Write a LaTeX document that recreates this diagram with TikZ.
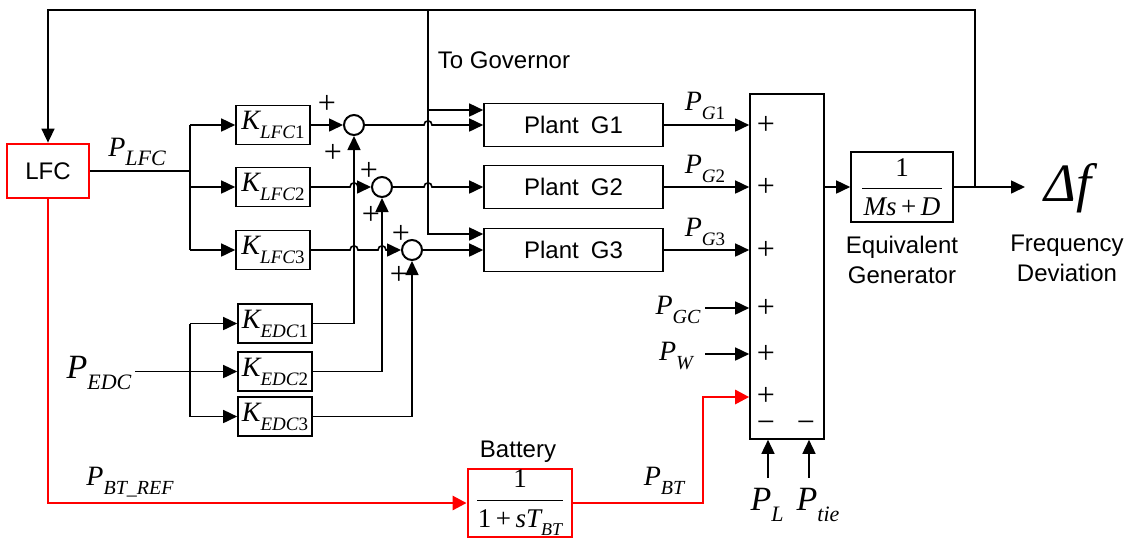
\documentclass[tikz,border=0pt]{standalone}
\usepackage{amsmath}
\usepackage{fontspec}
\setsansfont{Liberation Sans}
\newfontfamily\tms{Liberation Serif}
\usetikzlibrary{arrows.meta,positioning,calc}

% italic symbol with italic subscript
\newcommand{\vr}[3][9.5]{{\itshape #2}\raisebox{-.7ex}{\fontsize{#1}{#1}\selectfont\itshape #3}}
% small hop where a line crosses a vertical one
\newcommand{\hop}[2]{-- (#1-4,#2) .. controls (#1-4,#2-5.5) and (#1+4,#2-5.5) .. (#1+4,#2)}

\tikzset{
  blk/.style ={draw,line width=.8pt,minimum width=37pt,minimum height=19.5pt,inner sep=0pt},
  rblk/.style={draw=red,line width=1.4pt,inner sep=0pt},
  sumc/.style={circle,draw,line width=1pt,minimum size=10pt,inner sep=0pt},
  ln/.style  ={line width=.8pt},
  ar/.style  ={-{Triangle[length=7pt,width=6.5pt]},line width=.8pt},
  rar/.style ={-{Triangle[length=7pt,width=7pt]},red,line width=1.4pt},
  sf/.style  ={font=\sffamily\fontsize{12}{15}\selectfont,align=center},
  big/.style ={font=\tms\fontsize{17}{19}\selectfont},
  frc/.style ={font=\tms\fontsize{13.5}{14}\selectfont},
  pls/.style ={font=\tms\fontsize{16}{16}\selectfont,inner sep=0pt},
}

\begin{document}
\begin{tikzpicture}[x=.5pt,y=-.5pt,font=\tms\fontsize{14}{16}\selectfont]
  \useasboundingbox (0,0) rectangle (1132,538);
  % blocks
  \node[rblk,minimum width=41pt,minimum height=27pt,sf] (lfc) at (48,171) {LFC};
  \foreach \i/\y in {1/125,2/187,3/250}
    \node[blk] (kl\i) at (273,\y) {\vr{K}{LFC\upshape\i}};
  \foreach \i/\y in {1/323.5,2/371.5,3/416.5}
    \node[blk] (ke\i) at (275,\y) {\vr{K}{EDC\upshape\i}};
  \foreach \i/\x/\y in {1/354/125,2/382/187,3/412/250}
    \node[sumc] (s\i) at (\x,\y) {};
  \foreach \i/\y in {1/125,2/187,3/250}
    \node[blk,sf,minimum width=89.5pt,minimum height=21.5pt] (g\i) at (573.5,\y) {Plant\enspace G\i};
  \node[blk,minimum height=172.5pt] (sum) at (787,266.5) {};
  \node[blk,frc,minimum width=51pt,minimum height=35pt] (gen) at (902,187)
    {$\dfrac{\hbox{1}}{\hbox to 40pt{\hss\itshape Ms\upshape\,+\,\itshape D\hss}}$};
  \node[rblk,frc,minimum width=52pt,minimum height=34pt] (bat) at (520,503)
    {$\dfrac{\hbox{1}}{\hbox to 43pt{\hss 1\,+\,\itshape s\vr[9]{T}{BT}\hss}}$};

  % coordinates
  \coordinate (bl)   at (190,171);
  \coordinate (pedc) at (135,371.5);
  \coordinate (gv)   at (428,10);
  \coordinate (fb)   at (975,187);
  \coordinate (df)   at (1025,187);
  \coordinate (bt)   at (703,397);
  \coordinate (pgc)  at (705,308);
  \coordinate (pw)   at (705,354);
  \coordinate (pl)   at (768,478);
  \coordinate (pt)   at (809,478);
  \coordinate (g1in) at ($(g1.west)+(0,-15)$);
  \coordinate (g3in) at ($(g3.west)+(0,-16)$);

  % gains
  \draw[ln] (lfc.east) -- (bl);
  \draw[ln] (kl1.west -| bl) -- (kl3.west -| bl);
  \foreach \i in {1,2,3}
    \draw[ar] (kl\i.west -| bl) -- (kl\i.west);
  \draw[ar] (pedc) -- (ke2.west);
  \draw[ln] (ke1.west -| bl) -- (ke3.west -| bl);
  \foreach \i in {1,3}
    \draw[ar] (ke\i.west -| bl) -- (ke\i.west);

  % into the summers
  \draw[ar] (kl1.east) -- (s1.west);
  \draw[ar] (kl2.east) \hop{354}{187} -- (s2.west);
  \draw[ar] (kl3.east) \hop{354}{250} \hop{382}{250} -- (s3.west);
  \foreach \i in {1,2,3}
    \draw[ar] (ke\i.east) -| (s\i.south);

  % to plants and governor
  \draw[ar] (s1.east) \hop{428}{125} -- (g1.west);
  \draw[ar] (s2.east) \hop{428}{187} -- (g2.west);
  \draw[ar] (s3.east) -- (g3.west);
  \draw[ar] (gv) |- (g3in);
  \draw[ar] (gv |- g1in) -- (g1in);
  \foreach \i in {1,2,3}
    \draw[ar] (g\i.east) -- (g\i.east -| sum.west);

  % other inputs
  \draw[ar] (pgc) -- (pgc -| sum.west);
  \draw[ar] (pw) -- (pw -| sum.west);
  \draw[ar] (pl) -- (pl |- sum.south);
  \draw[ar] (pt) -- (pt |- sum.south);

  % generator and feedback
  \draw[ar] (sum.east |- gen.west) -- (gen.west);
  \draw[ar] (gen.east) -- (df);
  \draw[ar] (fb) |- (gv) -| (lfc.north);

  % battery path
  \draw[rar] (lfc.south) |- (bat.west);
  \draw[rar] (bat.east) -| (bt) -- (bt -| sum.west);

  % signs
  \foreach \y in {125,187,250,308,354,396}
    \node[pls] (p\y) at (766,\y) {+};
  \node[pls] (m1) at (766,427) {\char"2212};
  \node[pls] (m2) at (806,427) {\char"2212};
  \foreach \n/\x/\y in {a/327/104,b/333/153,c/369/171,d/371/215,e/401/234,f/399/275}
    \node[pls] (q\n) at (\x,\y) {+};

  % labels
  \node[sf] (tg) at (504,60) {To Governor};
  \node (plfc) at (137,152) {\vr[11]{P}{LFC}};
  \node (pg1) at (705,106) {\vr{P}{G\upshape 1}};
  \node (pg2) at (705,169) {\vr{P}{G\upshape 2}};
  \node (pg3) at (705,232) {\vr{P}{G\upshape 3}};
  \node[big] (pedcl) at (99,373) {\vr[11]{P}{EDC}};
  \node (pbtref) at (130,482) {\vr[10]{P}{BT\_REF}};
  \node[sf] (batl) at (518,452) {Battery};
  \node (pbtl) at (664,481) {\vr[10]{P}{BT}};
  \node (pgcl) at (678,310) {\vr[10]{P}{GC}};
  \node (pwl) at (676,356) {\vr[10]{P}{W}};
  \node[big] (pll) at (767,505) {\vr[11]{P}{L}};
  \node[big] (ptl) at (818,505) {\vr[11]{P}{tie}};
  \node[font=\tms\itshape\fontsize{27}{27}\selectfont] (dfl) at (1068,188) {Δf};
  \node[sf] (eqg) at (902,260) {Equivalent\\Generator};
  \node[sf] (fdv) at (1067,258) {Frequency\\Deviation};
\end{tikzpicture}
\end{document}
